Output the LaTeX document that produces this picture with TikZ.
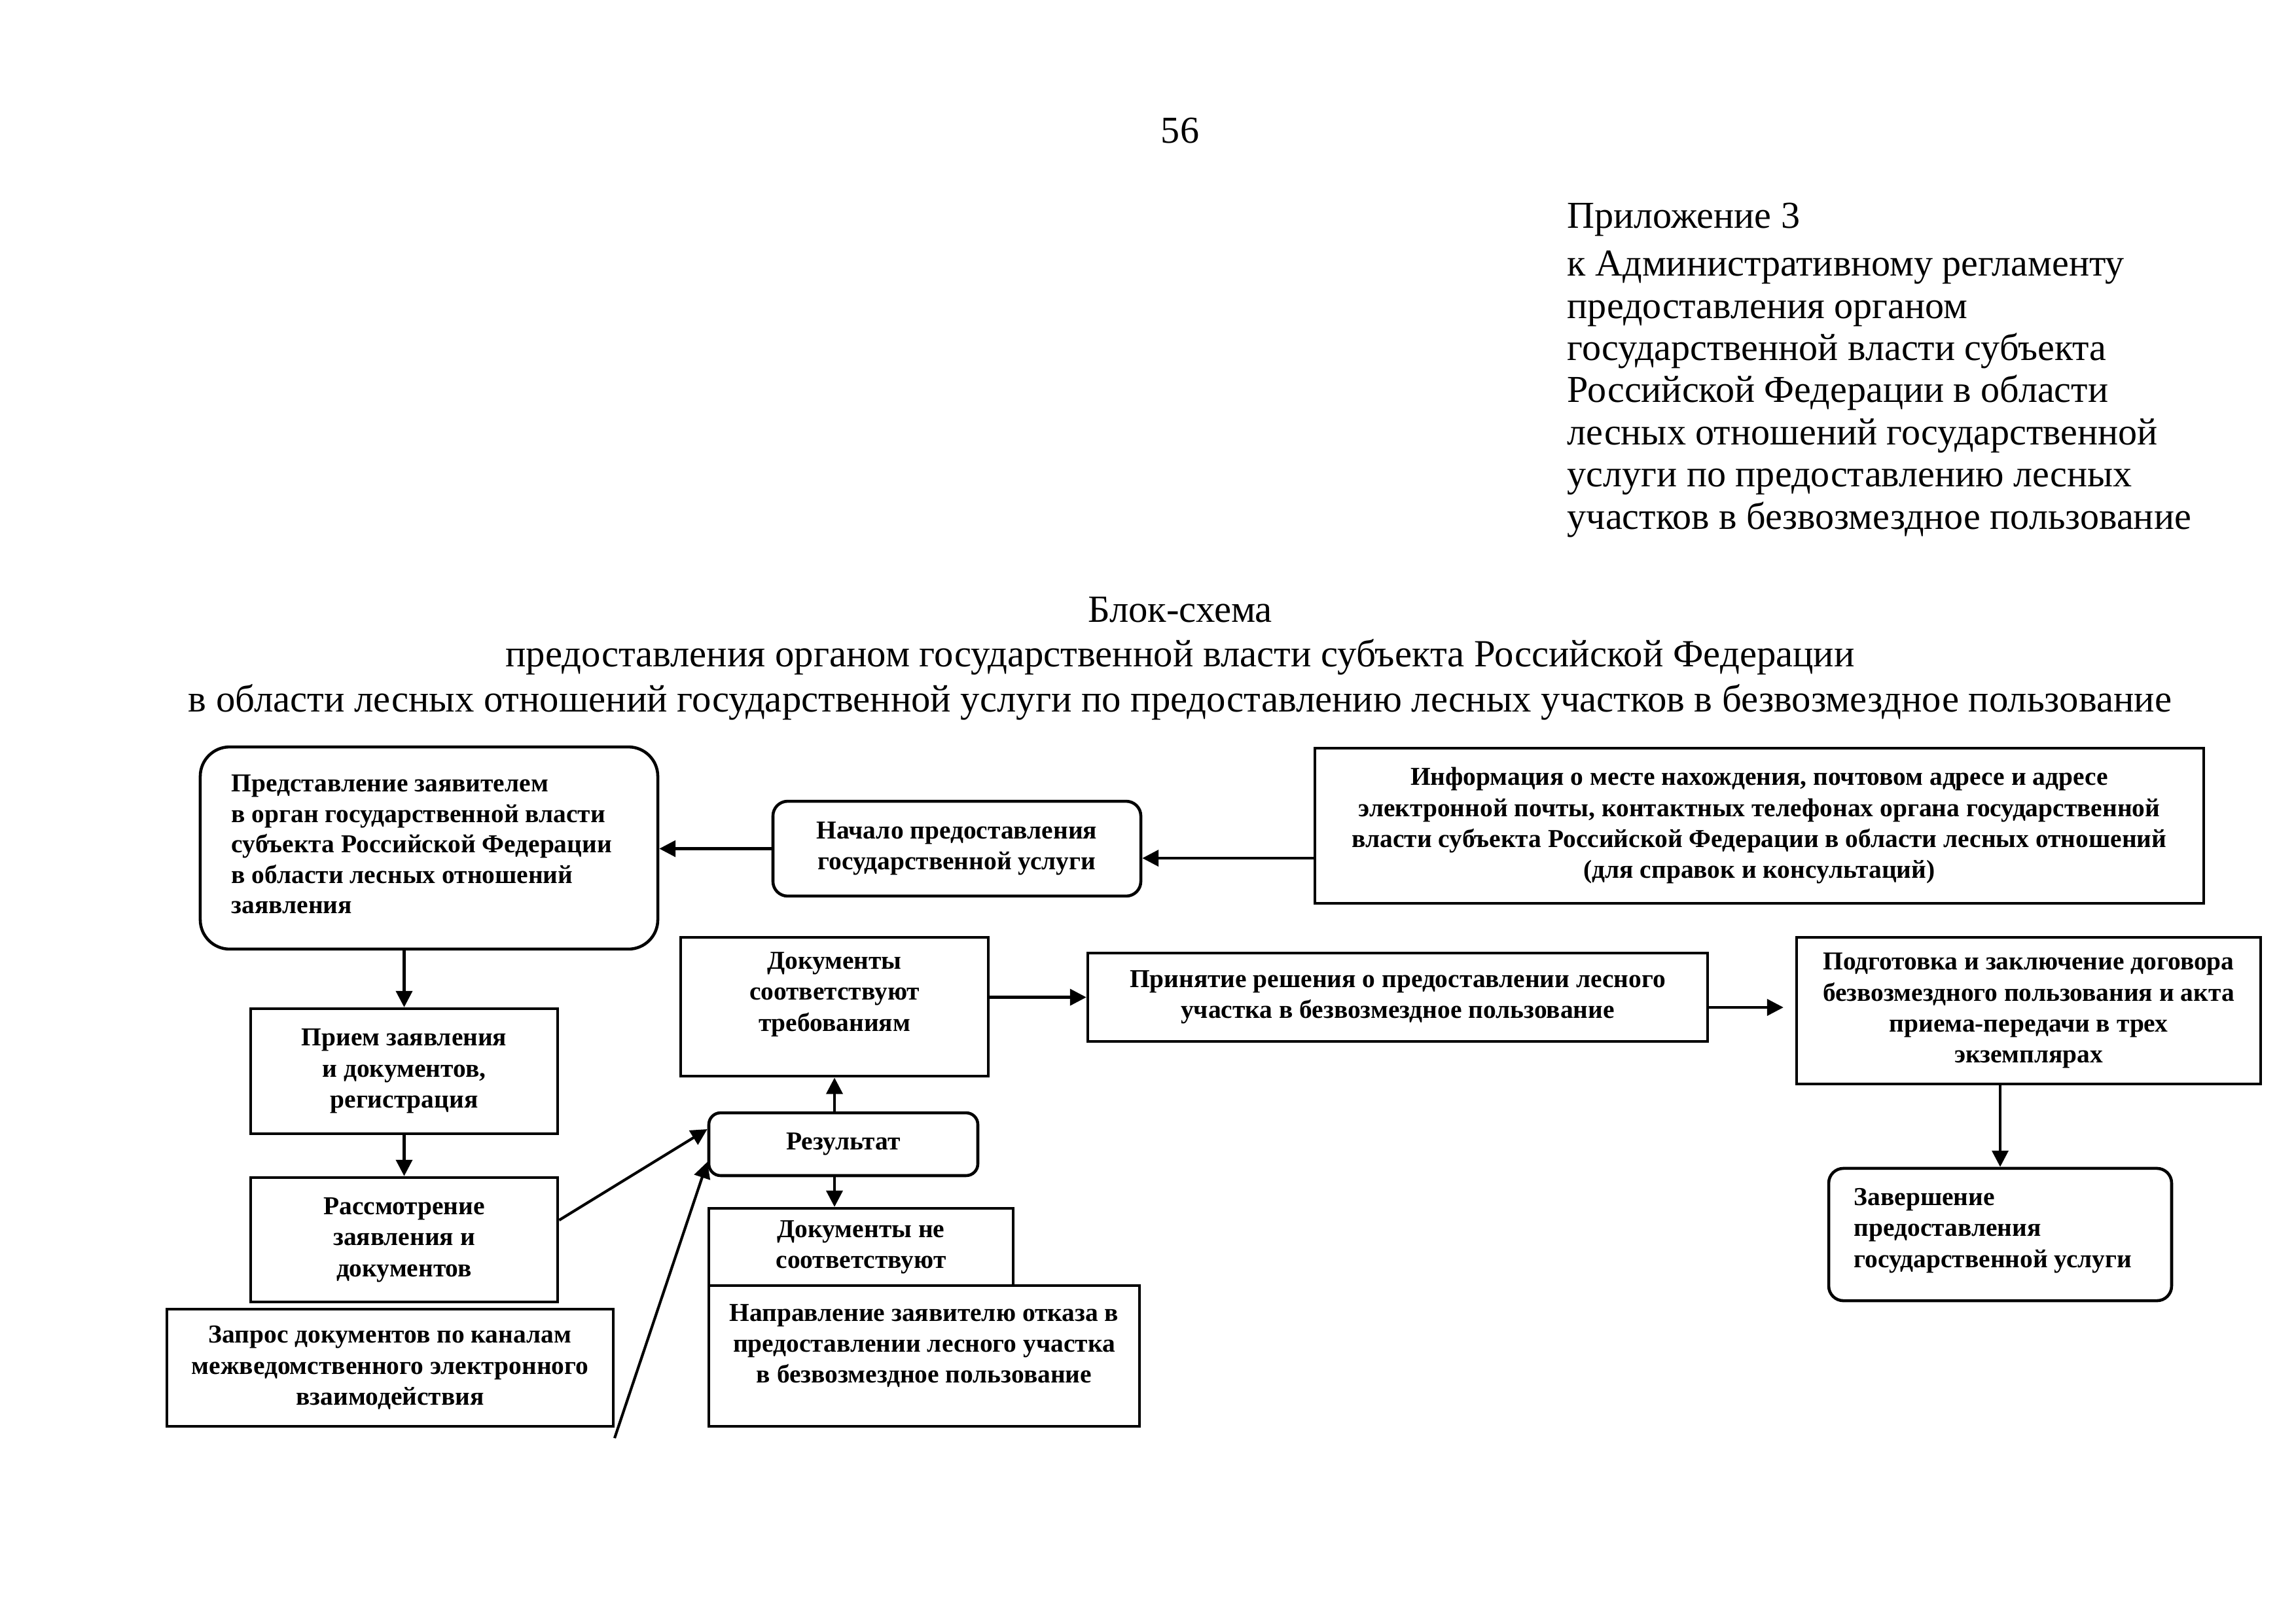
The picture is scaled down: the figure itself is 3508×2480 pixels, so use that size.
\documentclass[tikz,border=0pt]{standalone}
\usepackage{fontspec}
\setmainfont{Liberation Serif}
\usetikzlibrary{arrows.meta,calc}
\begin{document}
\begin{tikzpicture}[x=0.24089pt,y=-0.24089pt,
  boxfont/.style={font=\bfseries\fontsize{9.5}{11.4}\selectfont},
  box/.style={draw, line width=1.1pt, inner sep=0pt, align=center, fill=white, boxfont},
  txt/.style={inner sep=0pt, boxfont},
  arr/.style={line width=1pt, -{Triangle[length=6pt,width=6pt]}},
  big/.style={inner sep=0pt, font=\fontsize{14}{16.4}\selectfont},
]
\useasboundingbox[fill=white] (0,0) rectangle (3508,2480);

% header
\node[big, anchor=base] (pg) at (1803,218) {56};
\node[big, anchor=base west, align=left, font=\fontsize{14}{15.5}\selectfont] (app) at (2394,808)
 {Приложение 3\\[2.2pt]
  к Административному регламенту\\
  предоставления органом\\
  государственной власти субъекта\\
  Российской Федерации в области\\
  лесных отношений государственной\\
  услуги по предоставлению лесных\\
  участков в безвозмездное пользование};
\node[big, anchor=base, align=center, font=\fontsize{14.15}{16.4}\selectfont] (title) at (1803,1087)
 {Блок-схема\\
  предоставления органом государственной власти субъекта Российской Федерации\\
  в области лесных отношений государственной услуги по предоставлению лесных участков в безвозмездное пользование};

% boxes
\node[box, rounded corners=10.8pt, minimum width=168.4pt, minimum height=74.4pt] (A) at (655.5,1295.5) {};
\node[txt, anchor=west, align=left, font=\bfseries\fontsize{9.5}{11.2}\selectfont] (At) at (353,1290)
 {Представление заявителем\\ в орган государственной власти\\ субъекта Российской Федерации\\ в области лесных отношений\\ заявления};
\node[box, rounded corners=5.4pt, minimum width=135.4pt, minimum height=34.9pt] (B) at (1462,1296.5)
 {Начало предоставления\\ государственной услуги};
\node[box, minimum width=327.1pt, minimum height=57.1pt] (C) at (2688,1261.5)
 {Информация о месте нахождения, почтовом адресе и адресе\\
  электронной почты, контактных телефонах органа государственной\\
  власти субъекта Российской Федерации в области лесных отношений\\
  (для справок и консультаций)};
\node[box, minimum width=113pt, minimum height=46pt] (D) at (617.5,1636.5)
 {Прием заявления\\ и документов,\\ регистрация};
\node[box, minimum width=113pt, minimum height=45.8pt] (E) at (617.5,1894)
 {Рассмотрение\\ заявления и\\ документов};
\node[box, minimum width=164.3pt, minimum height=43.1pt] (F) at (596,2089.5)
 {Запрос документов по каналам\\ межведомственного электронного\\ взаимодействия};
\node[box, minimum width=113.2pt, minimum height=51.1pt] (G) at (1275,1538) {};
\node[txt, align=center] (Gt) at (1275,1519) {Документы\\ соответствуют\\ требованиям};
\node[box, rounded corners=4.3pt, minimum width=99pt, minimum height=23.1pt] (H) at (1288.5,1748) {Результат};
\node[box, minimum width=112pt, minimum height=28.4pt] (I) at (1315.5,1905)
 {Документы не\\ соответствуют};
\node[box, minimum width=158.5pt, minimum height=51.8pt] (J) at (1412,2071.5) {};
\node[txt, align=center] (Jt) at (1412,2056)
 {Направление заявителю отказа в\\ предоставлении лесного участка\\ в безвозмездное пользование};
\node[box, minimum width=228.1pt, minimum height=32.5pt] (K) at (2135.5,1523.5)
 {Принятие решения о предоставлении лесного\\ участка в безвозмездное пользование};
\node[box, minimum width=170.8pt, minimum height=54pt] (L) at (3099.5,1544)
 {Подготовка и заключение договора\\ безвозмездного пользования и акта\\ приема-передачи в трех\\ экземплярах};
\node[box, rounded corners=5.4pt, minimum width=126.2pt, minimum height=48.7pt] (M) at (3056,1886) {};
\node[txt, anchor=west, align=left] (Mt) at (2832,1880)
 {Завершение\\ предоставления\\ государственной услуги};

% connectors
\draw[arr] ($(C.west)+(0,49.5)$) -- ($(B.east)+(0,14.5)$);
\draw[arr] (B.west) -- (A.east |- B.west);
\draw[arr] (A.south -| D.north) -- (D.north);
\draw[arr] (D.south) -- (E.north);
\draw[arr] (G.east |- K.west) -- (K.west);
\draw[arr, shorten >=4.3pt] ($(K.east)+(0,15.5)$) -- (L.west |- {$(K.east)+(0,15.5)$});
\draw[arr] (L.south -| M.north) -- (M.north);
\draw[arr] (H.north -| G.south) -- (G.south);
\draw[arr] (H.south -| G.south) -- (I.north -| G.south);
\draw[arr] ($(E.east)+(0,-30)$) -- ($(H.west)+(0,-23)$);
\coordinate (Fq) at (939,2197);
\draw[arr] (Fq) -- ($(H.west)+(0,27)$);
\end{tikzpicture}
\end{document}
